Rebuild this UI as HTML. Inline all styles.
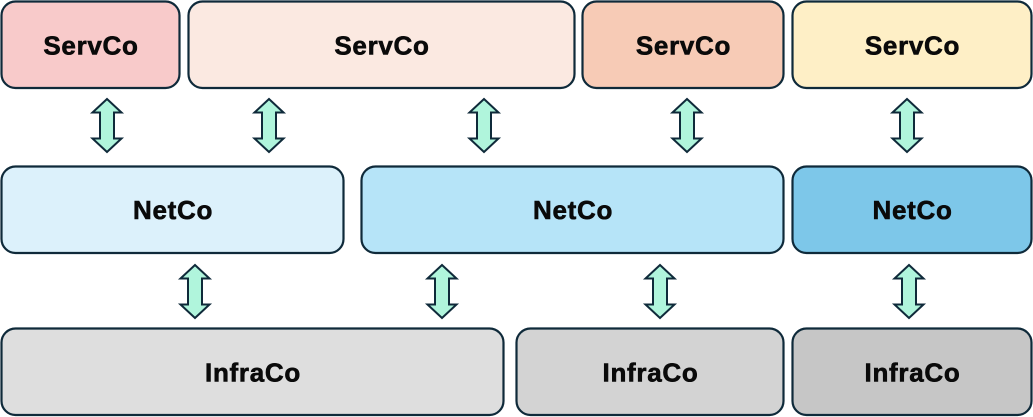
<!DOCTYPE html>
<html>
<head>
<meta charset="utf-8">
<style>
html,body{margin:0;padding:0;background:#fff;}
svg{display:block;}
text{font-family:"Liberation Sans",Arial,sans-serif;font-weight:bold;font-size:26px;letter-spacing:0.7px;fill:#0a0a0a;stroke:#0a0a0a;stroke-width:0.6px;}
</style>
</head>
<body>
<svg width="1033" height="417" viewBox="0 0 1033 417" xmlns="http://www.w3.org/2000/svg">
  <g stroke="#0f2a3a" stroke-width="2.2">
    <!-- Row 1 -->
    <rect x="1.5" y="1.5" width="178" height="86.5" rx="14" fill="#f8caca"/>
    <rect x="188.5" y="1.5" width="386" height="86.5" rx="14" fill="#fbe9e1"/>
    <rect x="582.5" y="1.5" width="201" height="86.5" rx="14" fill="#f7cbb6"/>
    <rect x="792.5" y="1.5" width="239" height="86.5" rx="14" fill="#feefc6"/>
    <!-- Row 2 -->
    <rect x="1.5" y="166.5" width="342" height="86.5" rx="14" fill="#dcf1fb"/>
    <rect x="361.5" y="166.5" width="422" height="86.5" rx="14" fill="#b6e4f8"/>
    <rect x="792.5" y="166.5" width="239" height="86.5" rx="14" fill="#7dc7e9"/>
    <!-- Row 3 -->
    <rect x="1.5" y="328.5" width="502" height="86.5" rx="14" fill="#dedede"/>
    <rect x="516.5" y="328.5" width="267" height="86.5" rx="14" fill="#d3d3d3"/>
    <rect x="792.5" y="328.5" width="239" height="86.5" rx="14" fill="#c6c6c6"/>
  </g>
  <g stroke="#0f2a3a" stroke-width="2" fill="#b0f5dc" stroke-linejoin="miter">
    <path d="M107,99 L121.5,112.5 L114,112.5 L114,138.5 L121.5,138.5 L107,152 L92.5,138.5 L100,138.5 L100,112.5 L92.5,112.5 Z"/>
    <path d="M269,99 L283.5,112.5 L276,112.5 L276,138.5 L283.5,138.5 L269,152 L254.5,138.5 L262,138.5 L262,112.5 L254.5,112.5 Z"/>
    <path d="M484,99 L498.5,112.5 L491,112.5 L491,138.5 L498.5,138.5 L484,152 L469.5,138.5 L477,138.5 L477,112.5 L469.5,112.5 Z"/>
    <path d="M687,99 L701.5,112.5 L694,112.5 L694,138.5 L701.5,138.5 L687,152 L672.5,138.5 L680,138.5 L680,112.5 L672.5,112.5 Z"/>
    <path d="M907,99 L921.5,112.5 L914,112.5 L914,138.5 L921.5,138.5 L907,152 L892.5,138.5 L900,138.5 L900,112.5 L892.5,112.5 Z"/>
    <path d="M195,265 L209.5,278.5 L202,278.5 L202,304.5 L209.5,304.5 L195,318 L180.5,304.5 L188,304.5 L188,278.5 L180.5,278.5 Z"/>
    <path d="M442,265 L456.5,278.5 L449,278.5 L449,304.5 L456.5,304.5 L442,318 L427.5,304.5 L435,304.5 L435,278.5 L427.5,278.5 Z"/>
    <path d="M660,265 L674.5,278.5 L667,278.5 L667,304.5 L674.5,304.5 L660,318 L645.5,304.5 L653,304.5 L653,278.5 L645.5,278.5 Z"/>
    <path d="M909,265 L923.5,278.5 L916,278.5 L916,304.5 L923.5,304.5 L909,318 L894.5,304.5 L902,304.5 L902,278.5 L894.5,278.5 Z"/>
  </g>
  <g text-anchor="middle">
    <text x="91" y="54.5">ServCo</text>
    <text x="382" y="54.5">ServCo</text>
    <text x="683.5" y="54.5">ServCo</text>
    <text x="912.5" y="54.5">ServCo</text>
    <text x="173" y="219">NetCo</text>
    <text x="573" y="219">NetCo</text>
    <text x="912.5" y="219">NetCo</text>
    <text x="253" y="381.5">InfraCo</text>
    <text x="650.5" y="381.5">InfraCo</text>
    <text x="912.5" y="381.5">InfraCo</text>
  </g>
</svg>
</body>
</html>
